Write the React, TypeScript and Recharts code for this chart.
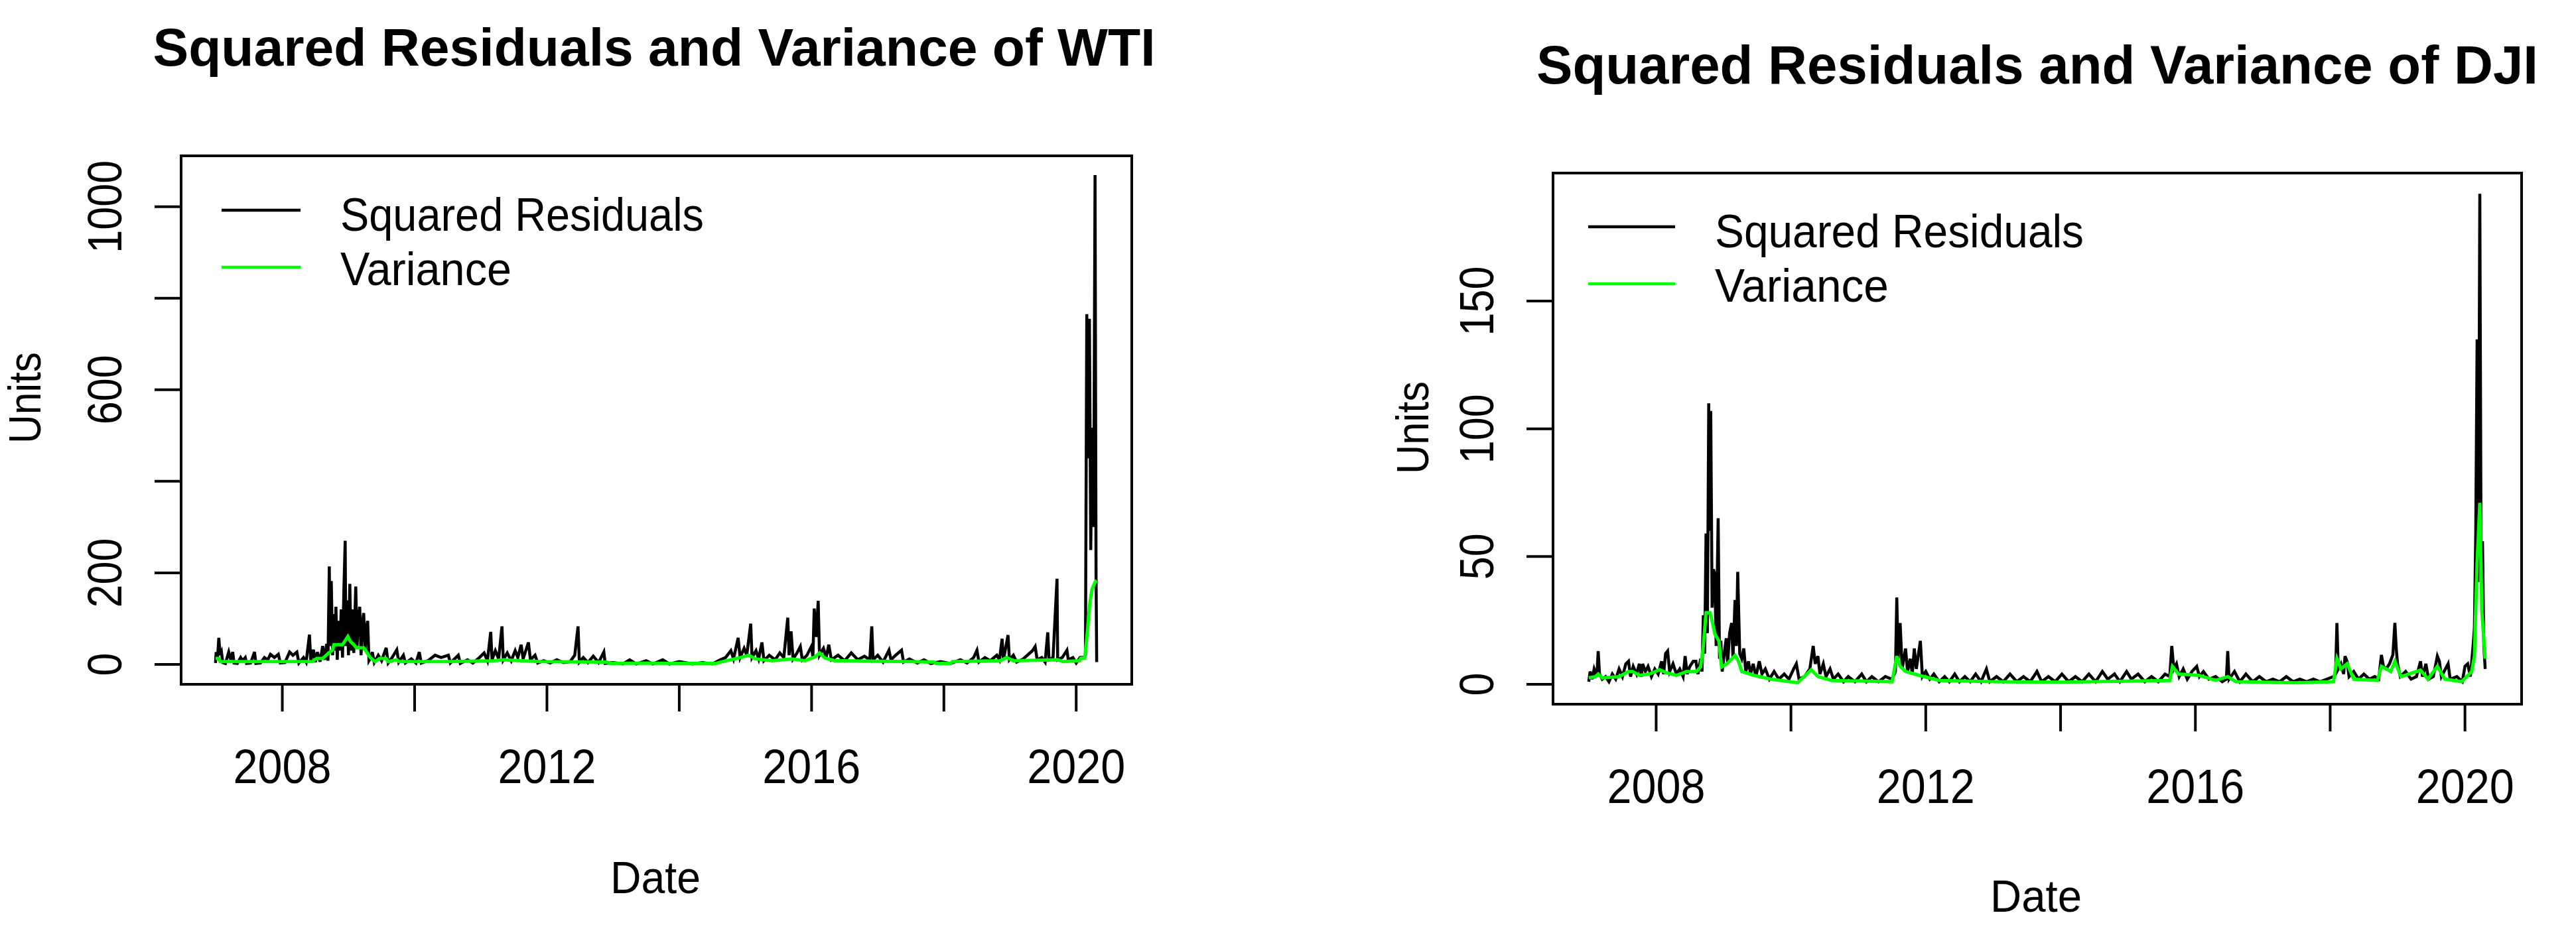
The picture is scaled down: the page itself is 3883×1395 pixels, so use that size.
import React from 'react';
import { LineChart, Line, XAxis, YAxis, ReferenceArea, Legend } from 'recharts';

const FONT = '"Liberation Sans", Arial, sans-serif';
const GREEN = '#00FF00';

// [decimal year, value]
const wtiResiduals: [number, number][] = [
  [2006.99, 3], [2007.0, 27], [2007.02, 12], [2007.04, 58], [2007.06, 20], [2007.08, 27], [2007.1, 4],
  [2007.14, 2], [2007.19, 27], [2007.22, 10], [2007.25, 27], [2007.27, 3], [2007.32, 2], [2007.37, 15],
  [2007.4, 8], [2007.44, 15], [2007.46, 2], [2007.52, 3], [2007.58, 27], [2007.6, 2], [2007.67, 3],
  [2007.73, 15], [2007.78, 10], [2007.82, 22], [2007.88, 15], [2007.94, 22], [2007.97, 3], [2008.04, 4],
  [2008.11, 27], [2008.16, 20], [2008.22, 27], [2008.25, 3], [2008.32, 15], [2008.36, 5], [2008.41, 65],
  [2008.43, 8], [2008.47, 32], [2008.5, 5], [2008.53, 27], [2008.57, 6], [2008.61, 40], [2008.64, 10],
  [2008.67, 45], [2008.69, 8], [2008.71, 214], [2008.72, 40], [2008.74, 182], [2008.76, 20], [2008.78, 110],
  [2008.8, 30], [2008.81, 126], [2008.83, 10], [2008.85, 95], [2008.87, 30], [2008.89, 120], [2008.91, 15],
  [2008.93, 160], [2008.95, 270], [2008.96, 40], [2008.98, 140], [2009.0, 20], [2009.02, 176], [2009.04, 30],
  [2009.06, 120], [2009.08, 25], [2009.11, 170], [2009.13, 40], [2009.15, 100], [2009.17, 126], [2009.19, 20],
  [2009.21, 90], [2009.23, 112], [2009.25, 30], [2009.27, 80], [2009.29, 95], [2009.31, 8], [2009.34, 15],
  [2009.36, 27], [2009.39, 4], [2009.45, 20], [2009.5, 8], [2009.57, 36], [2009.6, 3], [2009.66, 15],
  [2009.73, 32], [2009.76, 5], [2009.83, 20], [2009.86, 3], [2009.95, 12], [2010.02, 3], [2010.07, 27],
  [2010.1, 3], [2010.2, 8], [2010.31, 20], [2010.4, 15], [2010.51, 20], [2010.54, 3], [2010.66, 20],
  [2010.69, 2], [2010.8, 10], [2010.88, 3], [2010.98, 15], [2011.05, 25], [2011.1, 8], [2011.15, 71],
  [2011.17, 10], [2011.22, 30], [2011.27, 12], [2011.32, 83], [2011.34, 10], [2011.4, 25], [2011.46, 8],
  [2011.52, 30], [2011.56, 15], [2011.61, 43], [2011.64, 12], [2011.72, 48], [2011.75, 10], [2011.82, 20],
  [2011.86, 3], [2011.95, 8], [2012.05, 3], [2012.15, 10], [2012.25, 4], [2012.35, 6], [2012.42, 20],
  [2012.47, 83], [2012.49, 5], [2012.55, 15], [2012.62, 4], [2012.7, 18], [2012.78, 4], [2012.86, 27],
  [2012.88, 2], [2013.0, 4], [2013.15, 1], [2013.25, 10], [2013.35, 1], [2013.5, 8], [2013.6, 1],
  [2013.75, 10], [2013.85, 1], [2014.0, 6], [2014.2, 1], [2014.35, 4], [2014.5, 1], [2014.62, 10],
  [2014.7, 15], [2014.78, 30], [2014.82, 12], [2014.89, 58], [2014.92, 15], [2014.98, 35], [2015.02, 20],
  [2015.08, 89], [2015.1, 15], [2015.16, 30], [2015.2, 12], [2015.25, 48], [2015.28, 8], [2015.36, 20],
  [2015.45, 10], [2015.52, 25], [2015.58, 15], [2015.64, 102], [2015.66, 20], [2015.69, 72], [2015.72, 12],
  [2015.78, 25], [2015.83, 39], [2015.86, 10], [2015.93, 20], [2016.0, 40], [2016.02, 15], [2016.04, 122],
  [2016.07, 60], [2016.1, 139], [2016.12, 20], [2016.18, 35], [2016.22, 15], [2016.26, 43], [2016.3, 10],
  [2016.4, 20], [2016.5, 8], [2016.6, 25], [2016.7, 10], [2016.8, 18], [2016.88, 10], [2016.91, 83],
  [2016.93, 10], [2017.0, 20], [2017.08, 5], [2017.17, 31], [2017.2, 10], [2017.27, 20], [2017.36, 31],
  [2017.39, 5], [2017.48, 12], [2017.6, 3], [2017.7, 10], [2017.8, 2], [2017.95, 6], [2018.1, 2],
  [2018.25, 10], [2018.35, 3], [2018.45, 15], [2018.5, 31], [2018.53, 5], [2018.62, 15], [2018.7, 8],
  [2018.8, 20], [2018.84, 10], [2018.88, 56], [2018.9, 10], [2018.97, 64], [2018.99, 10], [2019.05, 20],
  [2019.1, 5], [2019.2, 12], [2019.3, 25], [2019.34, 30], [2019.38, 39], [2019.41, 10], [2019.48, 15],
  [2019.53, 5], [2019.57, 70], [2019.59, 10], [2019.65, 15], [2019.71, 187], [2019.72, 10], [2019.79, 15],
  [2019.86, 31], [2019.88, 10], [2019.95, 15], [2020.0, 3], [2020.06, 15], [2020.12, 15], [2020.14, 20],
  [2020.16, 765], [2020.18, 450], [2020.2, 755], [2020.22, 250], [2020.24, 517], [2020.26, 300],
  [2020.27, 517], [2020.285, 1069], [2020.3, 200], [2020.31, 5],
];

const wtiVariance: [number, number][] = [
  [2006.99, 13], [2007.04, 13], [2007.06, 6], [2007.5, 6], [2008.0, 6], [2008.45, 6], [2008.52, 13],
  [2008.61, 13], [2008.7, 25], [2008.76, 31], [2008.78, 43], [2008.91, 43], [2008.99, 61], [2009.03, 50],
  [2009.08, 43], [2009.12, 36], [2009.23, 36], [2009.33, 15], [2009.4, 6], [2009.47, 13], [2009.57, 13],
  [2009.6, 6], [2009.73, 10], [2009.76, 6], [2010.5, 6], [2011.2, 8], [2011.35, 10], [2011.6, 8],
  [2011.9, 6], [2012.9, 5], [2012.95, 2], [2013.5, 3], [2014.0, 2], [2014.55, 2], [2014.65, 6],
  [2014.9, 14], [2015.05, 20], [2015.15, 12], [2015.4, 8], [2015.7, 12], [2015.9, 8], [2016.05, 16],
  [2016.12, 25], [2016.2, 14], [2016.35, 8], [2017.0, 7], [2017.5, 6], [2017.85, 5], [2017.88, 2],
  [2018.1, 2], [2018.13, 6], [2018.85, 8], [2018.95, 15], [2019.05, 8], [2019.72, 10], [2019.8, 6],
  [2020.05, 8], [2020.07, 13.5], [2020.13, 14], [2020.16, 57], [2020.2, 124], [2020.21, 138],
  [2020.24, 164], [2020.29, 181], [2020.31, 183],
];

const djiResiduals: [number, number][] = [
  [2007.0, 1], [2007.02, 5], [2007.05, 2], [2007.08, 6], [2007.12, 3], [2007.14, 13], [2007.16, 4],
  [2007.2, 2], [2007.25, 3], [2007.3, 1], [2007.35, 4], [2007.4, 2], [2007.45, 6], [2007.5, 3],
  [2007.55, 8], [2007.59, 9], [2007.62, 3], [2007.66, 7], [2007.71, 4], [2007.75, 8], [2007.78, 3],
  [2007.8, 8], [2007.84, 5], [2007.88, 7], [2007.93, 3], [2007.98, 6], [2008.03, 4], [2008.08, 9],
  [2008.11, 4], [2008.14, 12], [2008.17, 13], [2008.2, 5], [2008.25, 8], [2008.3, 4], [2008.35, 6],
  [2008.4, 3], [2008.43, 11], [2008.46, 4], [2008.5, 7], [2008.55, 9], [2008.59, 9], [2008.62, 4],
  [2008.66, 10], [2008.68, 5], [2008.7, 27], [2008.72, 12], [2008.74, 59], [2008.76, 20], [2008.78, 110],
  [2008.79, 60], [2008.81, 107], [2008.83, 30], [2008.85, 45], [2008.87, 43], [2008.89, 15], [2008.92, 65],
  [2008.94, 10], [2008.96, 17], [2008.98, 5], [2009.01, 12], [2009.04, 18], [2009.06, 8], [2009.09, 20],
  [2009.12, 24], [2009.14, 10], [2009.17, 33], [2009.19, 15], [2009.21, 44], [2009.24, 12], [2009.27, 10],
  [2009.3, 14], [2009.33, 5], [2009.37, 9], [2009.4, 4], [2009.44, 8], [2009.48, 3], [2009.53, 9],
  [2009.57, 4], [2009.62, 6], [2009.68, 2], [2009.75, 5], [2009.82, 2], [2009.9, 4], [2009.97, 2],
  [2010.04, 6], [2010.08, 8], [2010.12, 2], [2010.2, 3], [2010.28, 6], [2010.33, 15], [2010.36, 8],
  [2010.4, 11], [2010.43, 4], [2010.48, 8], [2010.52, 3], [2010.58, 6], [2010.63, 2], [2010.7, 4],
  [2010.78, 1], [2010.85, 3], [2010.95, 1], [2011.05, 4], [2011.12, 1], [2011.2, 3], [2011.3, 1],
  [2011.4, 3], [2011.5, 2], [2011.55, 5], [2011.57, 34], [2011.59, 10], [2011.62, 24], [2011.65, 6],
  [2011.7, 14], [2011.73, 5], [2011.77, 10], [2011.8, 4], [2011.83, 14], [2011.86, 6], [2011.92, 17],
  [2011.95, 3], [2012.0, 5], [2012.06, 2], [2012.12, 4], [2012.2, 1], [2012.28, 3], [2012.35, 1],
  [2012.43, 4], [2012.5, 1], [2012.58, 3], [2012.66, 1], [2012.74, 4], [2012.82, 1], [2012.9, 6],
  [2012.95, 1], [2013.05, 3], [2013.15, 1], [2013.25, 4], [2013.35, 1], [2013.45, 3], [2013.55, 1],
  [2013.65, 5], [2013.72, 1], [2013.82, 3], [2013.92, 1], [2014.02, 4], [2014.12, 1], [2014.22, 3],
  [2014.32, 1], [2014.42, 4], [2014.52, 1], [2014.62, 5], [2014.7, 2], [2014.8, 4], [2014.88, 1],
  [2014.98, 5], [2015.05, 2], [2015.15, 4], [2015.25, 1], [2015.35, 3], [2015.45, 1], [2015.55, 4],
  [2015.62, 3], [2015.65, 15], [2015.68, 6], [2015.72, 8], [2015.76, 3], [2015.82, 6], [2015.88, 2],
  [2015.95, 5], [2016.02, 7], [2016.06, 3], [2016.12, 5], [2016.2, 2], [2016.3, 3], [2016.4, 1],
  [2016.46, 2], [2016.48, 13], [2016.5, 2], [2016.58, 5], [2016.66, 1], [2016.75, 4], [2016.85, 1],
  [2016.95, 3], [2017.05, 1], [2017.15, 2], [2017.25, 1], [2017.35, 3], [2017.45, 1], [2017.55, 2],
  [2017.65, 1], [2017.75, 2], [2017.85, 1], [2017.95, 2], [2018.05, 3], [2018.08, 4], [2018.1, 24],
  [2018.12, 6], [2018.16, 8], [2018.2, 4], [2018.22, 11], [2018.25, 9], [2018.28, 3], [2018.35, 5],
  [2018.42, 2], [2018.5, 4], [2018.58, 2], [2018.66, 3], [2018.72, 2], [2018.76, 11.5], [2018.79, 7],
  [2018.83, 6], [2018.88, 8], [2018.93, 11.5], [2018.96, 24], [2018.98, 14], [2019.0, 8], [2019.04, 3],
  [2019.12, 5], [2019.2, 2], [2019.28, 3], [2019.34, 9], [2019.37, 3], [2019.42, 8], [2019.46, 2],
  [2019.53, 3], [2019.59, 11], [2019.62, 9], [2019.65, 3], [2019.75, 8], [2019.78, 2], [2019.88, 3],
  [2019.96, 1], [2020.0, 7], [2020.04, 8], [2020.08, 3], [2020.12, 15], [2020.14, 22], [2020.16, 60],
  [2020.18, 135], [2020.19, 40], [2020.21, 120], [2020.22, 192], [2020.24, 40], [2020.26, 56],
  [2020.28, 15], [2020.3, 6],
];

const djiVariance: [number, number][] = [
  [2007.0, 2.5], [2007.1, 3], [2007.14, 4], [2007.2, 2.5], [2007.45, 3], [2007.59, 5], [2007.65, 5],
  [2007.75, 3.5], [2007.9, 4], [2008.05, 5.7], [2008.15, 4.5], [2008.3, 3.5], [2008.45, 5], [2008.6, 5],
  [2008.66, 6.9], [2008.7, 15], [2008.74, 28], [2008.8, 28], [2008.84, 23.6], [2008.87, 19.7],
  [2008.93, 17], [2008.97, 6.7], [2009.05, 8], [2009.17, 11.3], [2009.22, 9], [2009.27, 5],
  [2009.45, 3.5], [2009.7, 2], [2010.1, 0.6], [2010.3, 5.7], [2010.4, 3], [2010.6, 1.5], [2011.5, 1],
  [2011.57, 11], [2011.62, 7], [2011.7, 5], [2011.9, 3.5], [2012.2, 1.5], [2013.0, 1], [2014.0, 0.8],
  [2015.0, 1.2], [2015.62, 1.5], [2015.66, 7], [2015.75, 4], [2016.05, 3.5], [2016.3, 1.5],
  [2016.48, 3], [2016.6, 1], [2017.5, 0.6], [2018.05, 1], [2018.1, 10], [2018.16, 6], [2018.25, 8],
  [2018.35, 2], [2018.7, 1.5], [2018.76, 7], [2018.9, 5], [2018.96, 9], [2019.05, 3], [2019.34, 5.5],
  [2019.45, 2], [2019.59, 7], [2019.7, 2], [2019.95, 1], [2020.1, 5], [2020.14, 11], [2020.18, 48],
  [2020.22, 71], [2020.25, 28.5], [2020.3, 10],
];

const seriesNames = ['Squared Residuals', 'Variance'];
const yearTicks = [2008, 2010, 2012, 2014, 2016, 2018, 2020];
const yearLabels = [2008, 2012, 2016, 2020];
const wtiYTicks = [0, 200, 400, 600, 800, 1000];
const wtiYLabels = [0, 200, 600, 1000];
const djiYTicks = [0, 50, 100, 150];
const djiYLabels = [0, 50, 100, 150];

const toPoints = (rows: [number, number][]) => rows.map(([t, v]) => ({ t, v }));

const XTick = (props: any) => {
  const { x, y, payload, labels } = props;
  if (!labels.includes(payload.value)) return <g />;
  return (
    <text x={x} y={y} textAnchor="middle" fontSize={72} fontFamily={FONT} fill="#000"
      textLength={148} lengthAdjust="spacingAndGlyphs">
      {payload.value}
    </text>
  );
};

const YTick = (props: any) => {
  const { x, y, payload, labels } = props;
  if (!labels.includes(payload.value)) return <g />;
  const s = String(payload.value);
  return (
    <text x={x} y={y} transform={`rotate(-90 ${x} ${y})`} textAnchor="middle" fontSize={72}
      fontFamily={FONT} fill="#000" textLength={s.length * 35} lengthAdjust="spacingAndGlyphs">
      {s}
    </text>
  );
};

const LegendBox = ({ lineEnd, textX, widths }: { lineEnd: number; textX: number; widths: number[] }) => (
  <svg width={900} height={200} style={{ display: 'block' }}>
    <line x1={14} x2={lineEnd} y1={47} y2={47} stroke="#000" strokeWidth={4.5} />
    <line x1={14} x2={lineEnd} y1={133} y2={133} stroke={GREEN} strokeWidth={4.5} />
    <text x={textX} y={78} fontSize={70} fontFamily={FONT} textLength={widths[0]} lengthAdjust="spacingAndGlyphs">
      {seriesNames[0]}
    </text>
    <text x={textX} y={160} fontSize={70} fontFamily={FONT} textLength={widths[1]} lengthAdjust="spacingAndGlyphs">
      {seriesNames[1]}
    </text>
  </svg>
);

type PanelProps = {
  left: number;
  width: number;
  plot: { left: number; top: number; right: number; bottom: number };
  residuals: [number, number][];
  variance: [number, number][];
  yDomain: [number, number];
  yTicks: number[];
  yLabels: number[];
  legend: { left: number; top: number; lineEnd: number; textX: number; widths: number[] };
};

const X_DOMAIN: [number, number] = [2006.47, 2020.84];
const AXIS_W = 100;
const AXIS_H = 100;

const Panel = ({ left, width, plot, residuals, variance, yDomain, yTicks, yLabels, legend }: PanelProps) => (
  <div style={{ position: 'absolute', left, top: 0, width, height: 1395 }}>
    <LineChart
      width={width}
      height={1395}
      margin={{
        top: plot.top,
        left: plot.left - AXIS_W,
        right: width - plot.right,
        bottom: 1395 - plot.bottom - AXIS_H,
      }}
    >
      <XAxis
        type="number"
        dataKey="t"
        domain={X_DOMAIN}
        allowDataOverflow
        ticks={yearTicks}
        height={AXIS_H}
        axisLine={false}
        tickSize={41}
        tickMargin={108}
        tickLine={{ stroke: '#000', strokeWidth: 4 }}
        tick={(p: any) => <XTick {...p} labels={yearLabels} />}
        interval={0}
      />
      <YAxis
        type="number"
        domain={yDomain}
        allowDataOverflow
        ticks={yTicks}
        width={AXIS_W}
        axisLine={false}
        tickSize={40}
        tickMargin={50}
        tickLine={{ stroke: '#000', strokeWidth: 4 }}
        tick={(p: any) => <YTick {...p} labels={yLabels} />}
        interval={0}
      />
      <ReferenceArea
        x1={X_DOMAIN[0]}
        x2={X_DOMAIN[1]}
        y1={yDomain[0]}
        y2={yDomain[1]}
        fill="none"
        fillOpacity={0}
        stroke="#000"
        strokeWidth={4}
        ifOverflow="visible"
      />
      <Line
        data={toPoints(residuals)}
        dataKey="v"
        name={seriesNames[0]}
        type="linear"
        stroke="#000"
        strokeWidth={4.5}
        dot={false}
        activeDot={false}
        isAnimationActive={false}
      />
      <Line
        data={toPoints(variance)}
        dataKey="v"
        name={seriesNames[1]}
        type="linear"
        stroke={GREEN}
        strokeWidth={5}
        dot={false}
        activeDot={false}
        isAnimationActive={false}
      />
      <Legend
        layout="vertical"
        align="center"
        verticalAlign="middle"
        wrapperStyle={{ left: legend.left, top: legend.top, width: 900, height: 200 }}
        content={() => <LegendBox lineEnd={legend.lineEnd} textX={legend.textX} widths={legend.widths} />}
      />
    </LineChart>
  </div>
);

export default function App() {
  return (
    <div style={{ position: 'absolute', left: 0, top: 0, width: 3883, height: 1395, background: '#fff', overflow: 'hidden' }}>
      <Panel
        left={0}
        width={1940}
        plot={{ left: 273, top: 235, right: 1706, bottom: 1032 }}
        residuals={wtiResiduals}
        variance={wtiVariance}
        yDomain={[-43.5, 1111]}
        yTicks={wtiYTicks}
        yLabels={wtiYLabels}
        legend={{ left: 320, top: 270, lineEnd: 133, textX: 193, widths: [548, 258] }}
      />
      <Panel
        left={1940}
        width={1943}
        plot={{ left: 401, top: 261, right: 1861, bottom: 1062 }}
        residuals={djiResiduals}
        variance={djiVariance}
        yDomain={[-7.8, 200.1]}
        yTicks={djiYTicks}
        yLabels={djiYLabels}
        legend={{ left: 440, top: 295, lineEnd: 145, textX: 205, widths: [556, 262] }}
      />
      <svg width={3883} height={1395} style={{ position: 'absolute', left: 0, top: 0, pointerEvents: 'none' }}>
        <g fontFamily={FONT} fill="#000">
          <text x={986} y={99} textAnchor="middle" fontSize={80} fontWeight="bold" textLength={1511} lengthAdjust="spacingAndGlyphs">
            Squared Residuals and Variance of WTI
          </text>
          <text x={3071} y={126} textAnchor="middle" fontSize={81} fontWeight="bold" textLength={1510} lengthAdjust="spacingAndGlyphs">
            Squared Residuals and Variance of DJI
          </text>
          <text x={988} y={1347} textAnchor="middle" fontSize={68} textLength={136} lengthAdjust="spacingAndGlyphs">Date</text>
          <text x={3069} y={1375} textAnchor="middle" fontSize={68} textLength={138} lengthAdjust="spacingAndGlyphs">Date</text>
          <text x={61} y={600} transform="rotate(-90 61 600)" textAnchor="middle" fontSize={68} textLength={138} lengthAdjust="spacingAndGlyphs">Units</text>
          <text x={2153} y={645} transform="rotate(-90 2153 645)" textAnchor="middle" fontSize={68} textLength={140} lengthAdjust="spacingAndGlyphs">Units</text>
        </g>
      </svg>
    </div>
  );
}
